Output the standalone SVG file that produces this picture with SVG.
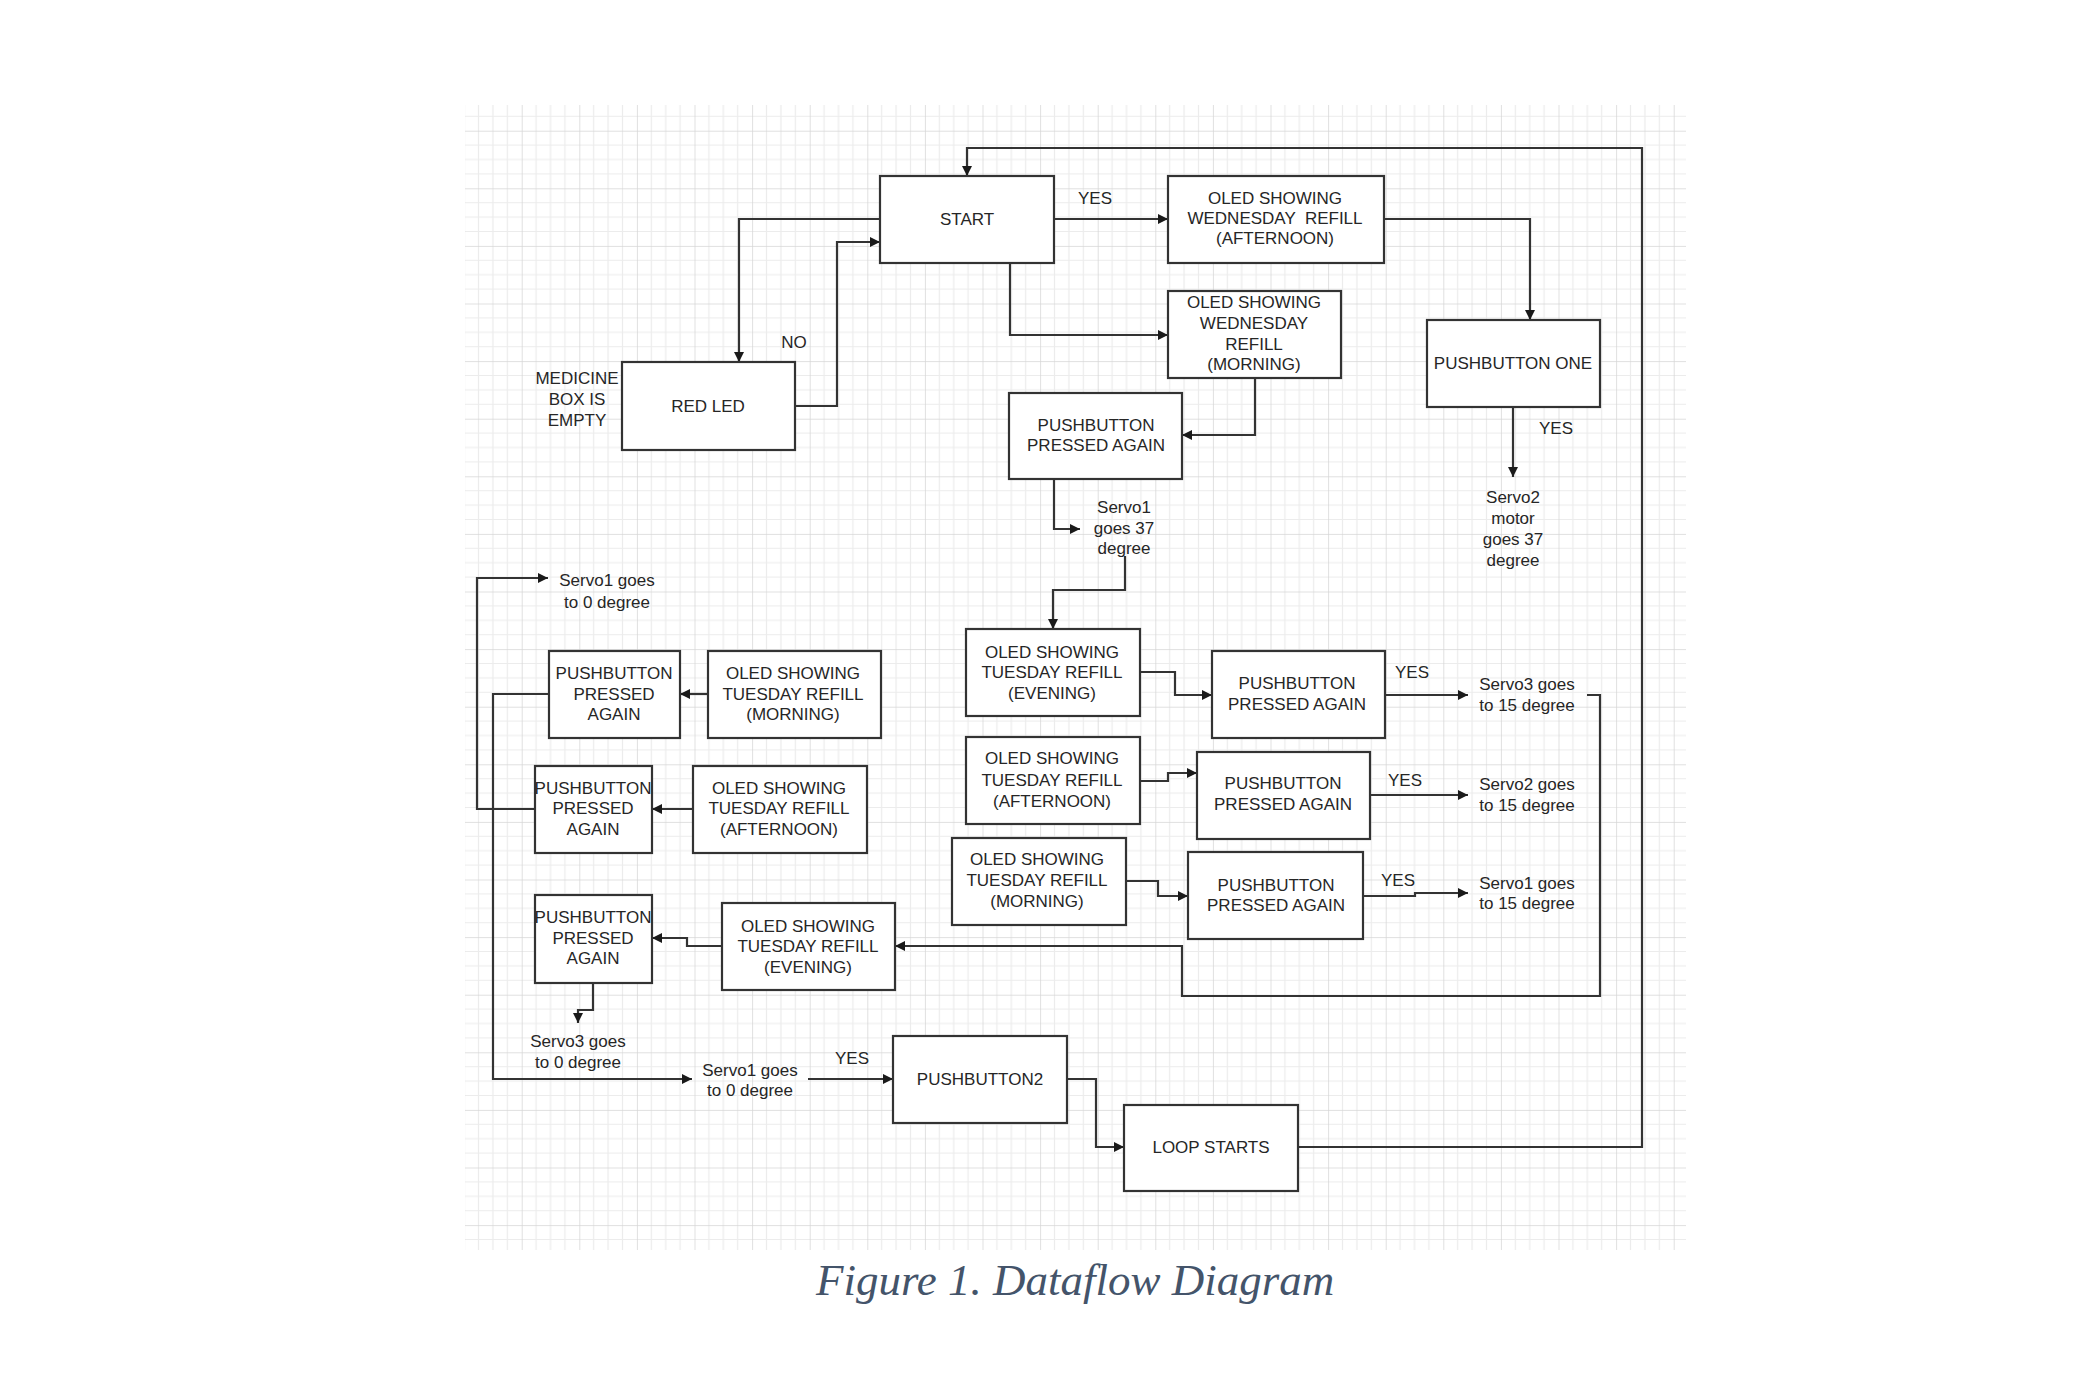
<svg xmlns="http://www.w3.org/2000/svg" width="2100" height="1400" viewBox="0 0 2100 1400">
<style>
.box{fill:#ffffff;stroke:#333333;stroke-width:2.2}
.t{font-family:"Liberation Sans",Arial,sans-serif;font-size:17px;fill:#262626;text-anchor:middle}
.c{fill:none;stroke:#333333;stroke-width:2.2}
.a{marker-end:url(#arr)}
.cap{font-family:"Liberation Serif","Times New Roman",serif;font-style:italic;font-size:45px;fill:#44546a}
</style>
<defs>
<marker id="arr" markerUnits="userSpaceOnUse" markerWidth="11" markerHeight="10" refX="10" refY="5" orient="auto">
<path d="M0,0 L10,5 L0,10 z" fill="#1a1a1a"/>
</marker>
<pattern id="grid" patternUnits="userSpaceOnUse" x="464.1" y="130.7" width="57.6" height="57.6">
<path d="M14.4,0 V57.6 M28.8,0 V57.6 M43.2,0 V57.6 M0,14.4 H57.6 M0,28.8 H57.6 M0,43.2 H57.6" stroke="#ececec" stroke-width="1.2" fill="none"/>
<path d="M0,0 V57.6 M0,0 H57.6" stroke="#d6d6d6" stroke-width="1.5" fill="none"/>
</pattern>
</defs>
<rect width="2100" height="1400" fill="#ffffff"/>
<rect x="465" y="105" width="1221" height="1145" fill="url(#grid)"/>

<g id="connectors">
<path class="c a" d="M880,219 H739 V362"/>
<path class="c a" d="M795,406 H837 V242 H880"/>
<path class="c a" d="M1054,219 H1168"/>
<path class="c a" d="M1010,263 V335 H1168"/>
<path class="c a" d="M1384,219 H1530 V320"/>
<path class="c a" d="M1255,378 V435 H1182"/>
<path class="c a" d="M1513,407 V477"/>
<path class="c a" d="M1054,479 V529 H1080"/>
<path class="c a" d="M1125,556 V590 H1053 V629"/>
<path class="c a" d="M1140,672 H1175 V695 H1212"/>
<path class="c a" d="M1385,695 H1468"/>
<path class="c a" d="M1140,781 H1168 V773 H1197"/>
<path class="c a" d="M1370,795 H1468"/>
<path class="c a" d="M1126,881 H1158 V896 H1188"/>
<path class="c a" d="M1363,896 H1415 V893 H1468"/>
<path class="c a" d="M1587,695 H1600 V996 H1182 V946 H895"/>
<path class="c a" d="M708,694 H680"/>
<path class="c a" d="M549,694 H493 V1079 H692"/>
<path class="c a" d="M693,809 H652"/>
<path class="c a" d="M535,809 H477 V578 H548"/>
<path class="c a" d="M722,946 H687 V938 H652"/>
<path class="c a" d="M593,983 V1010 H578 V1023"/>
<path class="c a" d="M808,1079 H893"/>
<path class="c a" d="M1067,1079 H1096 V1147 H1124"/>
<path class="c a" d="M1298,1147 H1642 V148 H967 V176"/>
</g>

<g id="labels">
<text class="t" x="794" y="348">NO</text>
<text class="t" x="1095" y="204">YES</text>
<text class="t" x="1556" y="434">YES</text>
<text class="t" x="1412" y="678">YES</text>
<text class="t" x="1405" y="786">YES</text>
<text class="t" x="1398" y="886">YES</text>
<text class="t" x="852" y="1064">YES</text>
</g>

<g id="start"><rect class="box" x="880" y="176" width="174" height="87"/><text class="t" x="967" y="225">START</text></g>
<g id="red-led"><rect class="box" x="622" y="362" width="173" height="88"/><text class="t" x="708" y="412">RED LED</text></g>
<g id="medicine-empty"><text class="t" x="577" y="384">MEDICINE</text><text class="t" x="577" y="405">BOX IS</text><text class="t" x="577" y="426">EMPTY</text></g>
<g id="oled-wed-afternoon"><rect class="box" x="1168" y="176" width="216" height="87"/><text class="t" x="1275" y="204">OLED SHOWING</text><text class="t" x="1275" y="224" xml:space="preserve">WEDNESDAY  REFILL</text><text class="t" x="1275" y="244">(AFTERNOON)</text></g>
<g id="oled-wed-morning"><rect class="box" x="1168" y="291" width="173" height="87"/><text class="t" x="1254" y="308">OLED SHOWING</text><text class="t" x="1254" y="329">WEDNESDAY</text><text class="t" x="1254" y="350">REFILL</text><text class="t" x="1254" y="370">(MORNING)</text></g>
<g id="pushbutton-one"><rect class="box" x="1427" y="320" width="173" height="87"/><text class="t" x="1513" y="369">PUSHBUTTON ONE</text></g>
<g id="servo2-37"><text class="t" x="1513" y="503">Servo2</text><text class="t" x="1513" y="524">motor</text><text class="t" x="1513" y="545">goes 37</text><text class="t" x="1513" y="566">degree</text></g>
<g id="pb-again-wed"><rect class="box" x="1009" y="393" width="173" height="86"/><text class="t" x="1096" y="431">PUSHBUTTON</text><text class="t" x="1096" y="451">PRESSED AGAIN</text></g>
<g id="servo1-37"><text class="t" x="1124" y="513">Servo1</text><text class="t" x="1124" y="534">goes 37</text><text class="t" x="1124" y="554">degree</text></g>

<g id="oled-tue-evening-r"><rect class="box" x="966" y="629" width="174" height="87"/><text class="t" x="1052" y="658">OLED SHOWING</text><text class="t" x="1052" y="678">TUESDAY REFILL</text><text class="t" x="1052" y="699">(EVENING)</text></g>
<g id="pb-again-a"><rect class="box" x="1212" y="651" width="173" height="87"/><text class="t" x="1297" y="689">PUSHBUTTON</text><text class="t" x="1297" y="710">PRESSED AGAIN</text></g>
<g id="servo3-15"><text class="t" x="1527" y="690">Servo3 goes</text><text class="t" x="1527" y="711">to 15 degree</text></g>
<g id="oled-tue-afternoon-r"><rect class="box" x="966" y="737" width="174" height="87"/><text class="t" x="1052" y="764">OLED SHOWING</text><text class="t" x="1052" y="786">TUESDAY REFILL</text><text class="t" x="1052" y="807">(AFTERNOON)</text></g>
<g id="pb-again-b"><rect class="box" x="1197" y="752" width="173" height="87"/><text class="t" x="1283" y="789">PUSHBUTTON</text><text class="t" x="1283" y="810">PRESSED AGAIN</text></g>
<g id="servo2-15"><text class="t" x="1527" y="790">Servo2 goes</text><text class="t" x="1527" y="811">to 15 degree</text></g>
<g id="oled-tue-morning-r"><rect class="box" x="952" y="838" width="174" height="87"/><text class="t" x="1037" y="865">OLED SHOWING</text><text class="t" x="1037" y="886">TUESDAY REFILL</text><text class="t" x="1037" y="907">(MORNING)</text></g>
<g id="pb-again-c"><rect class="box" x="1188" y="852" width="175" height="87"/><text class="t" x="1276" y="891">PUSHBUTTON</text><text class="t" x="1276" y="911">PRESSED AGAIN</text></g>
<g id="servo1-15"><text class="t" x="1527" y="889">Servo1 goes</text><text class="t" x="1527" y="909">to 15 degree</text></g>

<g id="servo1-0-top"><text class="t" x="607" y="586">Servo1 goes</text><text class="t" x="607" y="608">to 0 degree</text></g>
<g id="pb-again-morning-l"><rect class="box" x="549" y="651" width="131" height="87"/><text class="t" x="614" y="679">PUSHBUTTON</text><text class="t" x="614" y="700">PRESSED</text><text class="t" x="614" y="720">AGAIN</text></g>
<g id="oled-tue-morning-l"><rect class="box" x="708" y="651" width="173" height="87"/><text class="t" x="793" y="679">OLED SHOWING</text><text class="t" x="793" y="700">TUESDAY REFILL</text><text class="t" x="793" y="720">(MORNING)</text></g>
<g id="pb-again-afternoon-l"><rect class="box" x="535" y="766" width="117" height="87"/><text class="t" x="593" y="794">PUSHBUTTON</text><text class="t" x="593" y="814">PRESSED</text><text class="t" x="593" y="835">AGAIN</text></g>
<g id="oled-tue-afternoon-l"><rect class="box" x="693" y="766" width="174" height="87"/><text class="t" x="779" y="794">OLED SHOWING</text><text class="t" x="779" y="814">TUESDAY REFILL</text><text class="t" x="779" y="835">(AFTERNOON)</text></g>
<g id="pb-again-evening-l"><rect class="box" x="535" y="895" width="117" height="88"/><text class="t" x="593" y="923">PUSHBUTTON</text><text class="t" x="593" y="944">PRESSED</text><text class="t" x="593" y="964">AGAIN</text></g>
<g id="oled-tue-evening-l"><rect class="box" x="722" y="903" width="173" height="87"/><text class="t" x="808" y="932">OLED SHOWING</text><text class="t" x="808" y="952">TUESDAY REFILL</text><text class="t" x="808" y="973">(EVENING)</text></g>
<g id="servo3-0"><text class="t" x="578" y="1047">Servo3 goes</text><text class="t" x="578" y="1068">to 0 degree</text></g>
<g id="servo1-0-bottom"><text class="t" x="750" y="1076">Servo1 goes</text><text class="t" x="750" y="1096">to 0 degree</text></g>
<g id="pushbutton2"><rect class="box" x="893" y="1036" width="174" height="87"/><text class="t" x="980" y="1085">PUSHBUTTON2</text></g>
<g id="loop-starts"><rect class="box" x="1124" y="1105" width="174" height="86"/><text class="t" x="1211" y="1153">LOOP STARTS</text></g>

<text class="cap" x="816" y="1295">Figure 1. Dataflow Diagram</text>
</svg>
